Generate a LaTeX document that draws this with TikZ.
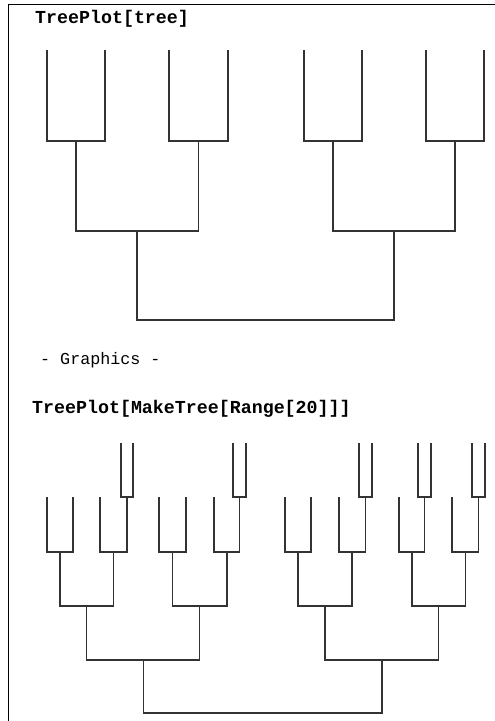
\documentclass[tikz,border=0pt]{standalone}
\usepackage{fontspec}
\setmonofont{Liberation Mono}
\usetikzlibrary{positioning}

\begin{document}
\begin{tikzpicture}[x=1pt, y=-1pt,
  branch/.style={draw=black!80, line width=1.1pt},
  frame/.style={draw=black, line width=1.5pt},
  cmd/.style={anchor=base west, inner sep=0pt, font=\ttfamily\bfseries\fontsize{18.3}{20}\selectfont},
  outp/.style={anchor=base west, inner sep=0pt, font=\ttfamily\fontsize{16.7}{18}\selectfont}]

  \useasboundingbox (0,0) rectangle (495,721);

  % Rahmen
  \draw[frame] (495,4.5) -| (8.5,721);

  % Texte
  \node[cmd]  (in1) at (35,23)  {TreePlot[tree]};
  \node[outp] (out) at (40,364) {- Graphics -};
  \node[cmd]  (in2) at (32,413) {TreePlot[MakeTree[Range[20]]]};

  % Baum 1
  \coordinate (a)    at (265.5,320);
  \coordinate (a1)   at (137,231);
  \coordinate (a2)   at (394,231);
  \coordinate (a11)  at (76,141);
  \coordinate (a12)  at (198.5,141);
  \coordinate (a21)  at (333,141);
  \coordinate (a22)  at (455,141);
  \coordinate (a111) at (47,50);
  \coordinate (a112) at (105,50);
  \coordinate (a121) at (169,50);
  \coordinate (a122) at (228,50);
  \coordinate (a211) at (304,50);
  \coordinate (a212) at (362,50);
  \coordinate (a221) at (426,50);
  \coordinate (a222) at (484,50);

  % Baum 2
  \coordinate (b)    at (262.5,713);
  \coordinate (b1)   at (143.5,660);
  \coordinate (b2)   at (382,660);
  \coordinate (b11)  at (86.5,606);
  \coordinate (b12)  at (199.5,606);
  \coordinate (b21)  at (325,606);
  \coordinate (b22)  at (438.5,606);
  \coordinate (b111) at (60,552);
  \coordinate (b112) at (113.5,552);
  \coordinate (b121) at (172.5,552);
  \coordinate (b122) at (227,552);
  \coordinate (b211) at (298,552);
  \coordinate (b212) at (352,552);
  \coordinate (b221) at (412,552);
  \coordinate (b222) at (465.5,552);
  \coordinate (b1111) at (47,497);
  \coordinate (b1112) at (73,497);
  \coordinate (b1121) at (100,497);
  \coordinate (b1122) at (127,497);
  \coordinate (b1211) at (159,497);
  \coordinate (b1212) at (186,497);
  \coordinate (b1221) at (214,497);
  \coordinate (b1222) at (239.5,497);
  \coordinate (b2111) at (285,497);
  \coordinate (b2112) at (311,497);
  \coordinate (b2121) at (339,497);
  \coordinate (b2122) at (365.5,497);
  \coordinate (b2211) at (399,497);
  \coordinate (b2212) at (424.5,497);
  \coordinate (b2221) at (452,497);
  \coordinate (b2222) at (478.5,497);
  \coordinate (b11221) at (121,443);
  \coordinate (b11222) at (133,443);
  \coordinate (b12221) at (233,443);
  \coordinate (b12222) at (246,443);
  \coordinate (b21221) at (359,443);
  \coordinate (b21222) at (372,443);
  \coordinate (b22121) at (418,443);
  \coordinate (b22122) at (431,443);
  \coordinate (b22221) at (472,443);
  \coordinate (b22222) at (485,443);

  % Kanten: jeder innere Knoten hat zwei Kinder
  \foreach \p in {a, a1, a2, a11, a12, a21, a22,
                  b, b1, b2, b11, b12, b21, b22,
                  b111, b112, b121, b122, b211, b212, b221, b222,
                  b1122, b1222, b2122, b2212, b2222}
    \draw[branch] (\p1) |- (\p) -| (\p2);
\end{tikzpicture}
\end{document}
